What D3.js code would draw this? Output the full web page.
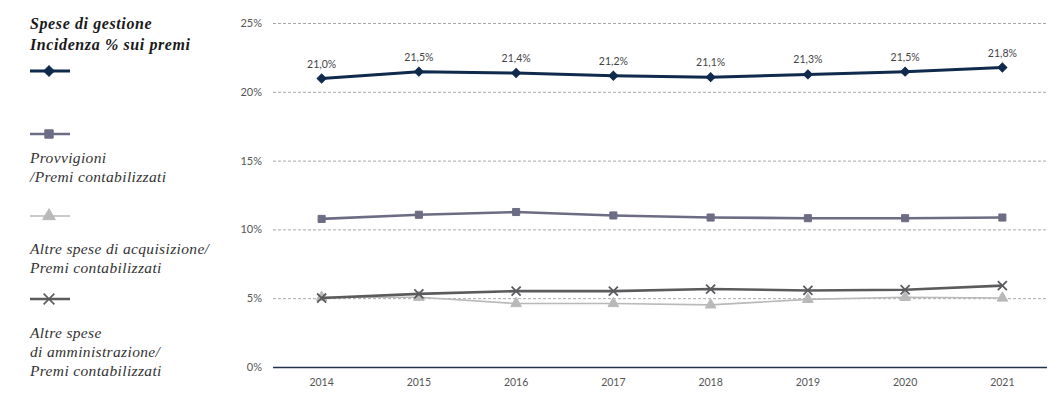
<!DOCTYPE html>
<html>
<head>
<meta charset="utf-8">
<script src="https://cdn.jsdelivr.net/npm/d3@7"></script>
<style>
  body { margin: 0; background: #fff; }
  svg { display: block; }
</style>
</head>
<body>
<svg id="chart"></svg>
<script>
const years = ["2014", "2015", "2016", "2017", "2018", "2019", "2020", "2021"];
const speseGestione = [21.0, 21.5, 21.4, 21.2, 21.1, 21.3, 21.5, 21.8];
const provvigioni = [10.8, 11.1, 11.3, 11.05, 10.9, 10.85, 10.85, 10.9];
const altreAcquisizione = [5.1, 5.1, 4.65, 4.65, 4.55, 4.95, 5.1, 5.05];
const altreAmministrazione = [5.05, 5.35, 5.55, 5.55, 5.7, 5.6, 5.65, 5.95];
const yTicks = [0, 5, 10, 15, 20, 25];

const width = 1053, height = 399;
const svg = d3.select("#chart").attr("width", width).attr("height", height);

const x = d3.scalePoint().domain(years).range([273, 1051]).padding(0.5);
const y = d3.scaleLinear().domain([0, 25]).range([367.5, 23.5]);

// griglia tratteggiata
svg.append("g")
  .selectAll("line")
  .data(yTicks.filter(d => d > 0))
  .join("line")
  .attr("x1", 273).attr("x2", 1047)
  .attr("y1", d => y(d)).attr("y2", d => y(d))
  .attr("stroke", "#a8a8a8")
  .attr("stroke-width", 1)
  .attr("stroke-dasharray", "3,2");

// asse zero
svg.append("line")
  .attr("x1", 273).attr("x2", 1047)
  .attr("y1", y(0)).attr("y2", y(0))
  .attr("stroke", "#22324d")
  .attr("stroke-width", 1.5);

// etichette asse y
svg.append("g")
  .selectAll("text")
  .data(yTicks)
  .join("text")
  .attr("x", 262)
  .attr("y", d => y(d) + 3.5)
  .attr("text-anchor", "end")
  .attr("font-family", "Lato, sans-serif")
  .attr("font-size", 11)
  .attr("fill", "#555")
  .text(d => d + "%");

// etichette asse x
svg.append("g")
  .selectAll("text")
  .data(years)
  .join("text")
  .attr("x", d => x(d))
  .attr("y", 386)
  .attr("text-anchor", "middle")
  .attr("font-family", "Lato, sans-serif")
  .attr("font-size", 10.5)
  .attr("fill", "#555")
  .text(d => d);

const series = [
  { values: altreAcquisizione, color: "#b9b9b9", width: 1.6, symbol: d3.symbolTriangle, size: 50, rot: 0, legendY: 216 },
  { values: altreAmministrazione, color: "#5b5b5e", width: 2.6, symbol: d3.symbolTimes, size: 55, rot: 0, legendY: 299 },
  { values: provvigioni, color: "#6c6c84", width: 2.6, symbol: d3.symbolSquare, size: 50, rot: 0, legendY: 134 },
  { values: speseGestione, color: "#0f2a4c", width: 3, symbol: d3.symbolSquare, size: 40, rot: 45, legendY: 71 }
];

const line = d3.line()
  .x((d, i) => x(years[i]))
  .y(d => y(d));

series.forEach(s => {
  svg.append("path")
    .datum(s.values)
    .attr("d", line)
    .attr("fill", "none")
    .attr("stroke", s.color)
    .attr("stroke-width", s.width)
    .attr("stroke-linejoin", "round");

  svg.append("g")
    .selectAll("path")
    .data(s.values)
    .join("path")
    .attr("transform", (d, i) => `translate(${x(years[i])}, ${y(d)}) rotate(${s.rot})`)
    .attr("d", d3.symbol().type(s.symbol).size(s.size))
    .attr("fill", s.symbol === d3.symbolTimes ? "none" : s.color)
    .attr("stroke", s.color)
    .attr("stroke-width", s.symbol === d3.symbolTimes ? 1.8 : 1);

  // simbolo in legenda
  svg.append("line")
    .attr("x1", 30).attr("x2", 70)
    .attr("y1", s.legendY).attr("y2", s.legendY)
    .attr("stroke", s.color)
    .attr("stroke-width", s.width);
  svg.append("path")
    .attr("transform", `translate(49, ${s.legendY}) rotate(${s.rot})`)
    .attr("d", d3.symbol().type(s.symbol).size(s.size * 1.4))
    .attr("fill", s.symbol === d3.symbolTimes ? "none" : s.color)
    .attr("stroke", s.color)
    .attr("stroke-width", s.symbol === d3.symbolTimes ? 1.6 : 1);
});

// etichette valori serie principale
svg.append("g")
  .selectAll("text")
  .data(speseGestione)
  .join("text")
  .attr("x", (d, i) => x(years[i]))
  .attr("y", d => y(d) - 11)
  .attr("text-anchor", "middle")
  .attr("font-family", "Lato, sans-serif")
  .attr("font-size", 10.5)
  .attr("fill", "#444")
  .text(d => d.toFixed(1).replace(".", ",") + "%");

// testi legenda
const legendTitle = ["Spese di gestione", "Incidenza % sui premi"];
const legendLabels = [
  { lines: ["Provvigioni", "/Premi contabilizzati"], y: 163 },
  { lines: ["Altre spese di acquisizione/", "Premi contabilizzati"], y: 254 },
  { lines: ["Altre spese", "di amministrazione/", "Premi contabilizzati"], y: 338 }
];

svg.append("g")
  .selectAll("text")
  .data(legendTitle)
  .join("text")
  .attr("x", 30)
  .attr("y", (d, i) => 29 + i * 21)
  .attr("font-family", "'Liberation Serif', serif")
  .attr("font-style", "italic")
  .attr("font-weight", "bold")
  .attr("font-size", 16)
  .attr("letter-spacing", 0.6)
  .attr("fill", "#1a1a1a")
  .text(d => d);

legendLabels.forEach(l => {
  svg.append("g")
    .selectAll("text")
    .data(l.lines)
    .join("text")
    .attr("x", 30)
    .attr("y", (d, i) => l.y + i * 19)
    .attr("font-family", "'Liberation Serif', serif")
    .attr("font-style", "italic")
    .attr("font-size", 15.5)
    .attr("letter-spacing", 0.35)
    .attr("fill", "#333")
    .text(d => d);
});
</script>
</body>
</html>
